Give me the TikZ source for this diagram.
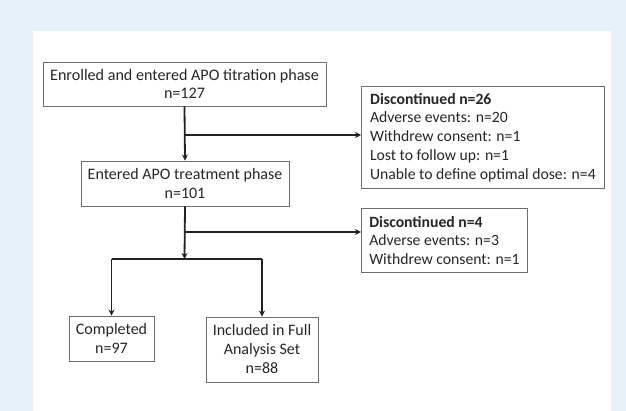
\documentclass[tikz,border=0pt]{standalone}
\usepackage{fontspec}
\setmainfont{Carlito}
\usetikzlibrary{arrows.meta}
\definecolor{bgblue}{HTML}{E7F1FA}
\definecolor{boxgray}{HTML}{6E6E6E}
\definecolor{linecol}{HTML}{222222}
\begin{document}
\begin{tikzpicture}[x=1pt,y=-1pt,
  box/.style={draw=boxgray,line width=0.9pt,fill=white,inner sep=0pt,align=center,
    font=\fontsize{16}{18.2}\selectfont,text=black!85},
  lbox/.style={box,align=left,anchor=north west,inner xsep=6.5pt,inner ysep=0pt},
  conn/.style={draw=linecol,line width=1.8pt},
  arr/.style={conn,-{Stealth[length=6pt,width=6pt]}}]
\useasboundingbox (0,0) rectangle (626,411);
\fill[bgblue] (0,0) rectangle (626,411);
\fill[white] (33,31) rectangle (611,411);
\node[box,minimum width=283pt,minimum height=44pt,font=\fontsize{16.1}{17.5}\selectfont] (b1) at (184.5,84) {Enrolled and entered APO titration phase\\n=127};
\node[box,minimum width=208pt,minimum height=45pt] (b2) at (185,183.5) {Entered APO treatment phase\\n=101};
\node[lbox,minimum width=243pt,minimum height=102pt,font=\fontsize{15.7}{18.8}\selectfont] (d1) at (361,86) {\textbf{Discontinued n=26}\\Adverse events: n=20\\Withdrew consent: n=1\\Lost to follow up: n=1\\Unable to define optimal dose: n=4};
\node[lbox,minimum width=166pt,minimum height=64pt,font=\fontsize{15.7}{18.2}\selectfont] (d2) at (361,208) {\textbf{Discontinued n=4}\\Adverse events: n=3\\Withdrew consent: n=1};
\node[box,minimum width=85pt,minimum height=45pt] (c) at (111.5,338.5) {Completed\\n=97};
\node[box,minimum width=112pt,minimum height=65pt,font=\fontsize{16}{19}\selectfont] (f) at (262,349.5) {Included in Full\\Analysis Set\\n=88};
\coordinate (j1) at (184.5,135);
\coordinate (j2) at (184.5,232);
\coordinate (bar) at (184.5,259);
\draw[arr] (b1.south) -- (b2.north);
\draw[arr] (j1) -- (d1.west |- j1);
\draw[arr] (b2.south) -- (bar);
\draw[arr] (j2) -- (d2.west |- j2);
\draw[conn] (c.north |- bar) -- (f.north |- bar);
\draw[arr] (c.north |- bar) -- (c.north);
\draw[arr] (f.north |- bar) -- (f.north);
\end{tikzpicture}
\end{document}
